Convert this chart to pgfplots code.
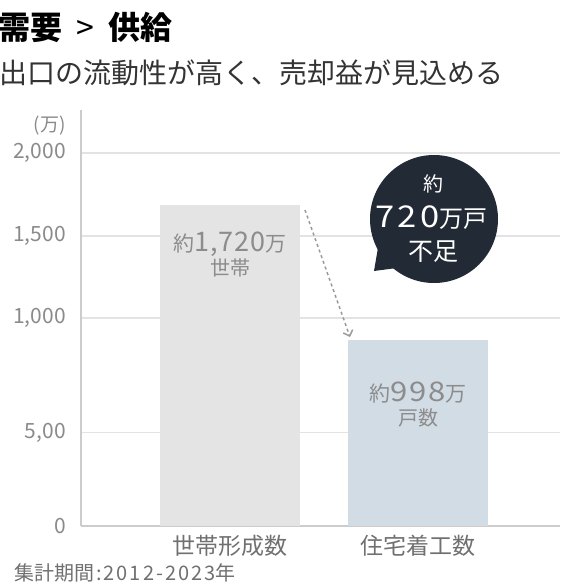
\documentclass[border=0pt]{standalone}
\usepackage{fontspec}
\setmainfont{Noto Sans CJK JP}
\usepackage{pgfplots}
\pgfplotsset{compat=1.18}
\usetikzlibrary{arrows.meta}
\definecolor{barA}{HTML}{E4E4E4}
\definecolor{barB}{HTML}{D2DCE5}
\definecolor{axisc}{HTML}{CCCCCC}
\definecolor{gridc}{HTML}{E3E3E3}
\definecolor{tickc}{HTML}{8A8A8A}
\definecolor{xlabc}{HTML}{707070}
\definecolor{labc}{HTML}{8C8C8C}
\definecolor{bubc}{HTML}{222A35}
\definecolor{subc}{HTML}{333333}
\definecolor{arrc}{HTML}{9A9A9A}
\newcommand{\fs}[1]{\fontsize{#1}{#1}\selectfont}
\newcommand{\ls}[2]{{\addfontfeature{LetterSpace=#1}#2}}
\newcommand{\lsw}[3]{{\addfontfeature{FakeStretch=#2,LetterSpace=#1}#3}}
\begin{document}
\begin{tikzpicture}
\path[use as bounding box] (0,0) rectangle (560pt,-586pt);
\begin{axis}[
  at={(81pt,-526pt)}, anchor=south west,
  scale only axis, width=479pt, height=416pt,
  xmin=-0.7926, xmax=1.755, ymin=0, ymax=2230,
  axis lines=left, axis line style={draw=axisc, line width=1.2pt, -},
  xtick={0,1}, xticklabels={世帯形成数,住宅着工数},
  ytick={0,500,1115,1555,2000},
  yticklabels={{0},{5,00},{1,000},{1,500},{2,000}},
  major tick length=0pt, tick style={draw=none},
  ymajorgrids, grid style={draw=gridc, line width=1.2pt},
  yticklabel style={font=\fs{21}, text=tickc, anchor=east, inner sep=0pt, xshift=-15pt},
  xticklabel style={font=\fs{23}, text=xlabc, anchor=north, inner sep=0pt, yshift=-9pt},
  /pgf/number format/assume math mode=true,
  clip=false,
]
\addplot[ybar, bar width=140pt, bar shift=0pt, fill=barA, draw=none] coordinates {(0,1720)};
\addplot[ybar, bar width=140pt, bar shift=0pt, fill=barB, draw=none] coordinates {(1,998)};
\end{axis}
% titles
\node[anchor=base west, inner sep=0] at (-1.5pt,-40pt) {\fs{32}\bfseries 需要\hspace{14pt}{\mdseries >}\hspace{14pt}供給};
\node[anchor=base west, inner sep=0, text=subc] at (-1pt,-83pt) {\fs{28}出口の流動性が高く、売却益が見込める};
\node[anchor=base east, inner sep=0, text=tickc] at (66pt,-131pt) {\fs{19}(万)};
% bar labels
\node[anchor=base, inner sep=0, text=labc] at (230pt,-251.5pt) {\fs{21}約\fs{27}\ls{4}{1,720}\fs{21}万};
\node[anchor=base, inner sep=0, text=labc] at (230pt,-275.5pt) {\fs{20}世帯};
\node[anchor=base, inner sep=0, text=labc] at (418pt,-401.5pt) {\fs{21}約\fs{27}\lsw{6}{1.15}{998}\fs{21}万};
\node[anchor=base, inner sep=0, text=labc] at (418pt,-425.5pt) {\fs{20}戸数};
% arrow
\draw[arrc, line width=1.5pt, dash pattern=on 3pt off 3pt, -{Straight Barb[length=5pt,width=10pt]}] (305pt,-210pt) -- (350pt,-337pt);
% bubble
\fill[bubc] (434pt,-219pt) circle (64pt);
\fill[bubc] (374pt,-271pt) -- (380pt,-236pt) -- (412pt,-266pt) -- cycle;
\node[anchor=base, inner sep=0, text=white] at (433pt,-191.5pt) {\fs{20}約};
\node[anchor=base, inner sep=0, text=white] at (431.5pt,-227pt) {\fs{30}\lsw{11}{1.15}{720}\fs{24}万戸};
\node[anchor=base, inner sep=0, text=white] at (433.5pt,-260pt) {\fs{25}不足};
% footer
\node[anchor=base west, inner sep=0, text=xlabc] at (14pt,-580.5pt) {\fs{20}集計期間\hspace{2pt}:\hspace{2pt}\ls{10}{2012-2023}年};
\end{tikzpicture}
\end{document}
